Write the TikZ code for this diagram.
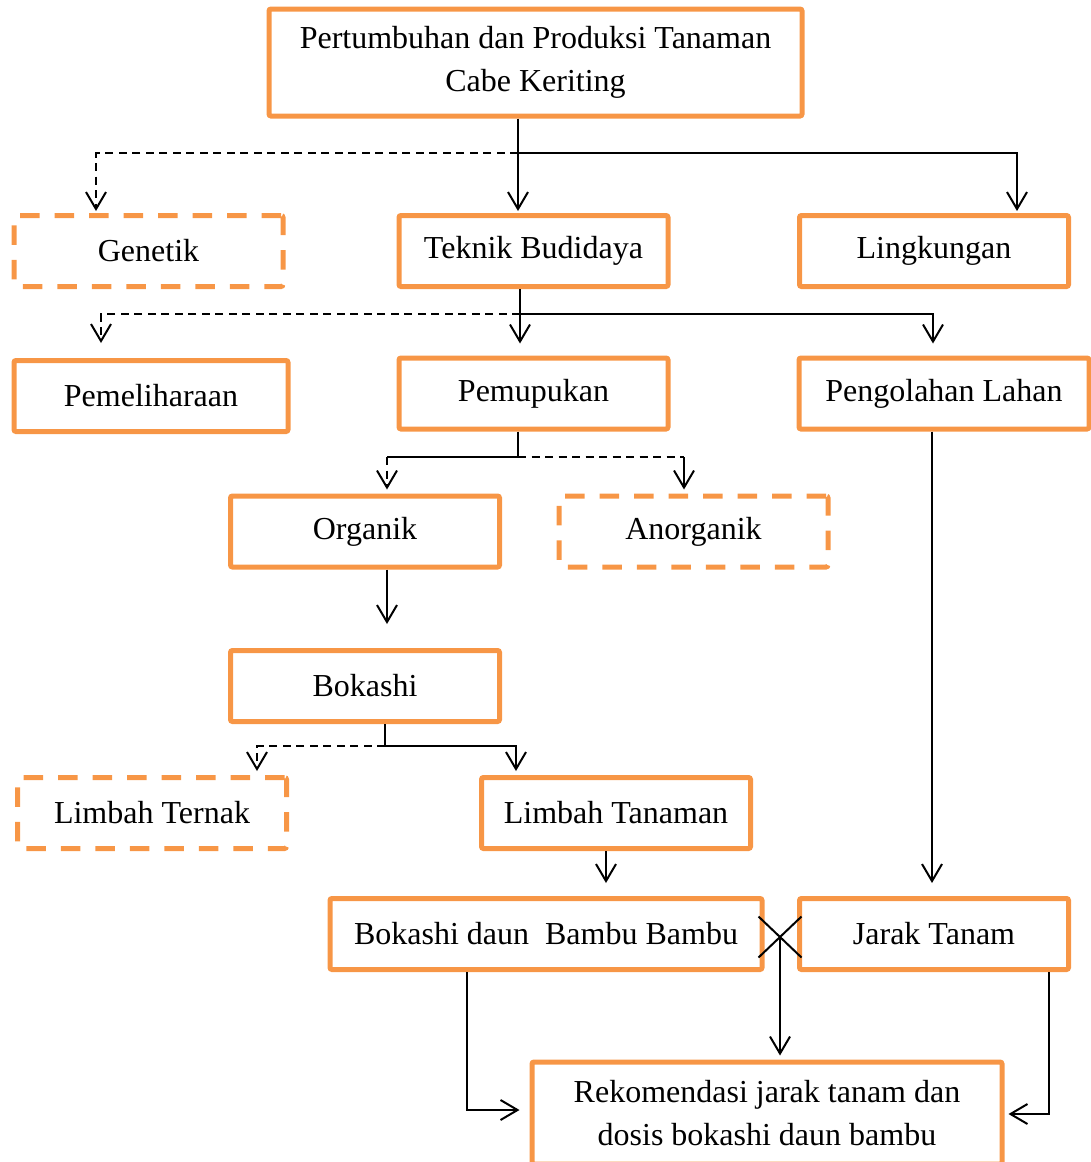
\documentclass[tikz,border=0pt]{standalone}
\usepackage{fontspec}
\setmainfont{Liberation Serif}
\usepackage{tikz}
\usetikzlibrary{arrows.meta, positioning}
\definecolor{boxorange}{RGB}{247,150,70}
\tikzset{
	>={Straight Barb[length=8.5pt,width=10pt]},
	x=0.5pt, y=-0.5pt,
	every node/.style={font=\fontsize{16pt}{21.5pt}\selectfont},
	box/.style={draw=boxorange, line width=2.5pt, rounded corners=1pt, minimum width=134.5pt, minimum height=35.5pt, inner sep=0pt, align=center},
	dbox/.style={box, dash pattern=on 9.75pt off 7.5pt},
	link/.style={line width=1pt},
	dlink/.style={link, dash pattern=on 4pt off 2.75pt},
}

\begin{document}
\begin{tikzpicture}
			
			\useasboundingbox (0,0) rectangle (1091,1162);
			
			\node[box, minimum width=266.5pt, minimum height=53.5pt] (TOP) at (535.5,62.5) {Pertumbuhan dan Produksi Tanaman\\Cabe Keriting};
			\node[dbox] (GENETIK) at (148.5,251) {Genetik};
			\node[box] (TEKNIK) at (533.5,251) {Teknik Budidaya};
			\node[box] (LINGKUNGAN) at (934,251) {Lingkungan};
			\node[box, minimum width=137pt] (PEMELIHARAAN) at (151,396) {Pemeliharaan};
			\node[box] (PEMUPUKAN) at (533.5,393.5) {Pemupukan};
			\node[box, minimum width=145pt] (PENGOLAHAN) at (944,393.5) {Pengolahan Lahan};
			\node[box] (ORGANIK) at (365,531.5) {Organik};
			\node[dbox] (ANORGANIK) at (693.5,531.5) {Anorganik};
			\node[box] (BOKASHI) at (365,686) {Bokashi};
			\node[dbox] (TERNAK) at (152,813) {Limbah Ternak};
			\node[box] (TANAMAN) at (616,813) {Limbah Tanaman};
			\node[box, minimum width=216pt] (DAUN) at (546,934) {Bokashi daun~~Bambu Bambu};
			\node[box] (JARAK) at (934,934) {Jarak Tanam};
			\node[box, minimum width=235pt, minimum height=51pt] (REKOMENDASI) at (767,1113) {Rekomendasi jarak tanam dan\\dosis bokashi daun bambu};
			
			\coordinate (s1) at (518,153);
			\coordinate (s1l) at (96,153);
			\coordinate (s1r) at (1017,153);
			\coordinate (s2) at (520,314);
			\coordinate (s2l) at (101,314);
			\coordinate (s2r) at (933,314);
			\coordinate (s3) at (518,457);
			\coordinate (s3l) at (387,457);
			\coordinate (s3r) at (684,457);
			\coordinate (s5) at (385,746);
			\coordinate (s5l) at (257,746);
			\coordinate (s5r) at (516,746);
			\coordinate (k6) at (606,0);
			\coordinate (k7) at (932,0);
			\coordinate (x8) at (780,937);
			\coordinate (k9) at (467,1110);
			\coordinate (k10) at (1049,1114);
			
			\draw[link, ->, shorten >=1pt] (TOP.south -| s1) -- (TEKNIK.north -| s1);
			\draw[link, ->, shorten >=1pt] (s1) -- (s1r) -- (LINGKUNGAN.north -| s1r);
			\draw[dlink, ->, shorten >=1pt] (s1) -- (s1l) -- (GENETIK.north -| s1l);
			
			\draw[link, ->, shorten >=6pt] (TEKNIK.south -| s2) -- (PEMUPUKAN.north -| s2);
			\draw[link, ->, shorten >=6pt] (s2) -- (s2r) -- (PENGOLAHAN.north -| s2r);
			\draw[dlink, ->, shorten >=7.5pt] (s2) -- (s2l) -- (PEMELIHARAAN.north -| s2l);
			
			\draw[link] (PEMUPUKAN.south -| s3) -- (s3) -- (s3l);
			\draw[dlink, ->, shorten >=2pt] (s3l) -- (ORGANIK.north -| s3l);
			\draw[dlink] (s3) -- (s3r);
			\draw[link, ->, shorten >=2pt] (s3r) -- (ANORGANIK.north -| s3r);
			
			\draw[link, ->, shorten >=12pt] (ORGANIK.south -| s3l) -- (BOKASHI.north -| s3l);
			
			\draw[link] (BOKASHI.south -| s5) -- (s5);
			\draw[dlink, ->, shorten >=2pt] (s5) -- (s5l) -- (TERNAK.north -| s5l);
			\draw[link, ->, shorten >=2pt] (s5) -- (s5r) -- (TANAMAN.north -| s5r);
			
			\draw[link, ->, shorten >=6.5pt] (TANAMAN.south -| k6) -- (DAUN.north -| k6);
			\draw[link, ->, shorten >=6.5pt] (PENGOLAHAN.south -| k7) -- (JARAK.north -| k7);
			
			\draw[link] (x8) ++(-21.5,-20.5) -- ++(43,41);
			\draw[link] (x8) ++(-21.5,20.5) -- ++(43,-41);
			\draw[link, ->, shorten >=2pt] (x8) -- (REKOMENDASI.north -| x8);
			
			\draw[link, ->, shorten >=5pt] (DAUN.south -| k9) -- (k9) -- (REKOMENDASI.west |- k9);
			\draw[link, ->, shorten >=2pt] (JARAK.south -| k10) -- (k10) -- (REKOMENDASI.east |- k10);
			
\end{tikzpicture}
\end{document}
